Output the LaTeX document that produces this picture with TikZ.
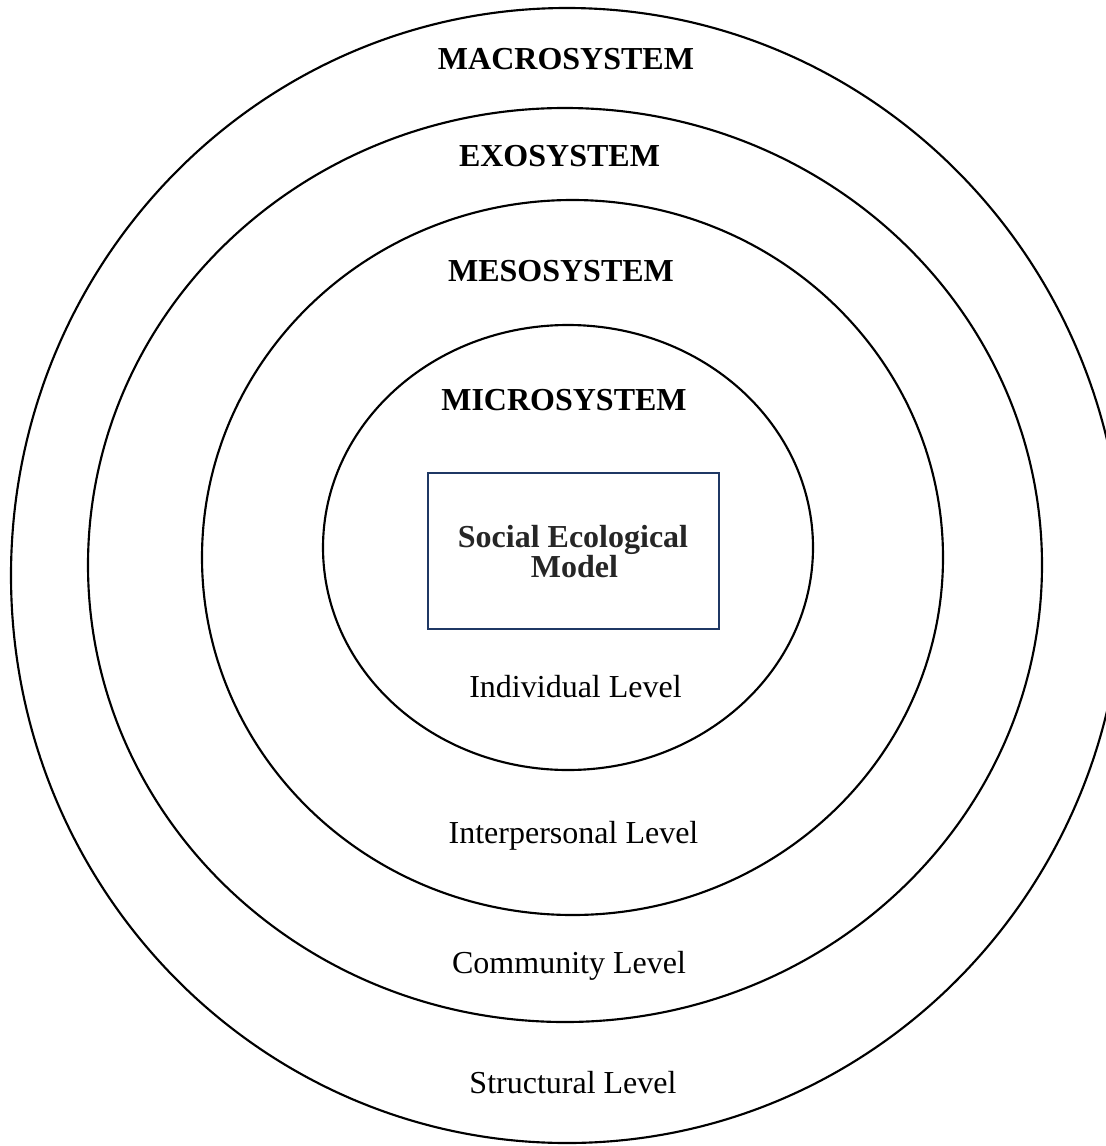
\documentclass[tikz,border=0pt]{standalone}
\usepackage{fontspec}
\setmainfont{Liberation Serif}
\definecolor{boxnavy}{HTML}{1F3864}
\definecolor{boxtext}{HTML}{262626}
\begin{document}
\begin{tikzpicture}[x=0.75pt,y=-0.75pt,
  ring/.style={draw=black,line width=1.6pt},
  title/.style={anchor=base,font=\fontsize{24}{28}\selectfont\bfseries,text=black,inner sep=0pt},
  level/.style={anchor=base,font=\fontsize{24}{28}\selectfont,text=black,inner sep=0pt},
  modelbox/.style={draw=boxnavy,line width=1.6pt,fill=white,minimum width=218.25pt,minimum height=117pt,inner sep=0pt},
  boxlabel/.style={anchor=base,font=\fontsize{24}{28}\selectfont\bfseries,text=boxtext,inner sep=0pt}]
\useasboundingbox (0,0) rectangle (1106,1146);
\clip (0,0) rectangle (1106,1146);
\fill[white] (0,0) rectangle (1106,1146);
% rings
\draw[ring] (567,575.5) ellipse [x radius=417pt, y radius=425.625pt];
\draw[ring] (565,565) ellipse [x radius=357.75pt, y radius=342.75pt];
\draw[ring] (572.5,557.5) ellipse [x radius=277.875pt, y radius=268.125pt];
\draw[ring] (568,547.5) ellipse [x radius=183.75pt, y radius=166.875pt];
% box
\node[modelbox] (box) at (573.5,551) {};
\node[boxlabel] (sel) at (573,547) {Social Ecological};
\node[boxlabel] (mdl) at (574.5,577) {Model};
% system titles
\node[title] (macro) at (566,69) {MACROSYSTEM};
\node[title] (exo) at (559.5,166) {EXOSYSTEM};
\node[title] (meso) at (561,281) {MESOSYSTEM};
\node[title] (micro) at (564,410) {MICROSYSTEM};
% level labels
\node[level] (indiv) at (575.5,697) {Individual Level};
\node[level] (inter) at (573.5,843) {Interpersonal Level};
\node[level] (comm) at (569,973) {Community Level};
\node[level] (struct) at (573,1093) {Structural Level};
\end{tikzpicture}
\end{document}
